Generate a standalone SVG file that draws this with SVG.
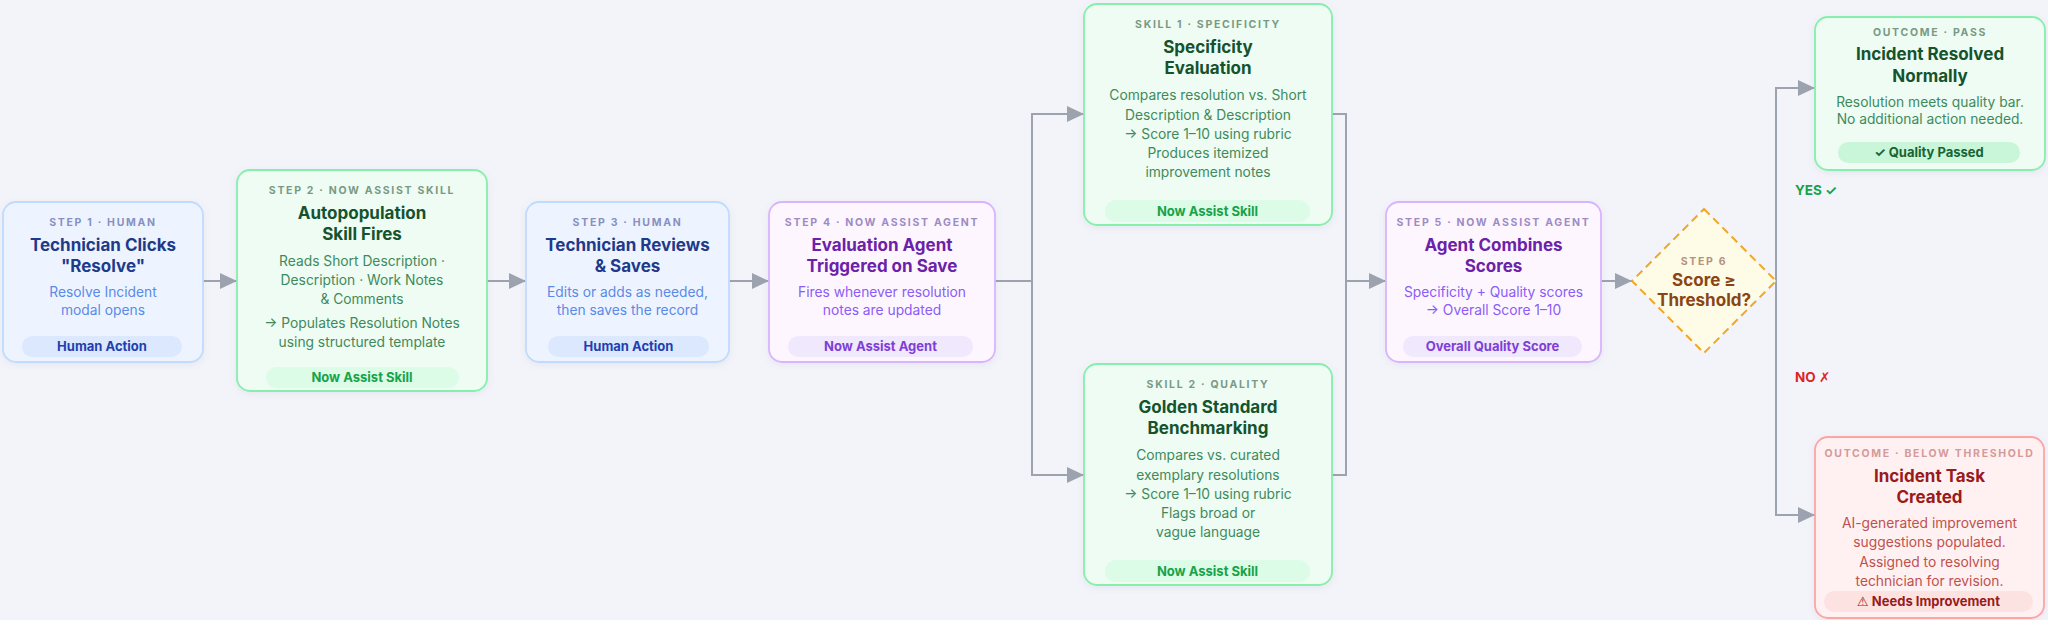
<svg xmlns="http://www.w3.org/2000/svg" width="2048" height="620" viewBox="0 0 2048 620">
<style>
text{font-family:Inter,"Noto Sans","Liberation Sans",sans-serif;text-anchor:middle}
.lbl{font-size:10.5px;font-weight:700;letter-spacing:1.7px}
.ttl{font-size:17px;font-weight:700}
.dsc{font-size:13.8px;font-weight:400}
.pil{font-size:13px;font-weight:700}
.hum rect.box{fill:#eef4ff;stroke:#bfdbfe;stroke-width:1.8}
.hum .lbl{fill:#8790c0}.hum .ttl{fill:#1e3a8a}.hum .dsc{fill:#5b8ae6}.hum rect.pill{fill:#dbe8fd}.hum .pil{fill:#1e40af}
.skl rect.box{fill:#eefcf3;stroke:#86efac;stroke-width:1.8}
.skl .lbl{fill:#789a85}.skl .ttl{fill:#14532d}.skl .dsc{fill:#3f8a5c}.skl rect.pill{fill:#dcfce7}.skl .pil{fill:#16a34a}
.agt rect.box{fill:#fdf6ff;stroke:#d8b4fe;stroke-width:1.8}
.agt .lbl{fill:#9d8bc4}.agt .ttl{fill:#6b21a8}.agt .dsc{fill:#8b5cf6}.agt rect.pill{fill:#f0e8fc}.agt .pil{fill:#7e3fd6}
.bad rect.box{fill:#fff1f2;stroke:#fca5a5;stroke-width:1.8}
.bad .lbl{fill:#d49a9a}.bad .ttl{fill:#991b1b}.bad .dsc{fill:#c0504d}.bad rect.pill{fill:#fde2e2}.bad .pil{fill:#991b1b}
.box{filter:url(#sh)}
.conn path{fill:none;stroke:#9ca3af;stroke-width:2}
.arr{marker-end:url(#ah)}
.br{text-anchor:start;font-size:13.5px;font-weight:700}
.sym{font-family:"DejaVu Sans",sans-serif}
</style>
<defs>
<marker id="ah" markerUnits="userSpaceOnUse" markerWidth="18" markerHeight="16" refX="17" refY="8" orient="auto">
<path d="M0,0 L17,8 L0,16 Z" fill="#9ca3af"/>
</marker>
<filter id="sh" x="-10%" y="-10%" width="120%" height="125%">
<feDropShadow dx="0" dy="2" stdDeviation="3" flood-color="#6b7280" flood-opacity="0.10"/>
</filter>
</defs>
<rect width="2048" height="620" fill="#f3f4fa"/>

<g class="conn">
<path class="arr" d="M203,281 H237"/>
<path class="arr" d="M487,281 H526"/>
<path class="arr" d="M729,281 H769"/>
<path class="arr" d="M995,281 H1032 V114 H1084"/>
<path class="arr" d="M1032,281 V475 H1084"/>
<path d="M1332,114 H1346 V475 H1332"/>
<path class="arr" d="M1346,281 H1386"/>
<path class="arr" d="M1601,281 H1632"/>
<path class="arr" d="M1776,281 V88 H1815"/>
<path class="arr" d="M1776,281 V515 H1815"/>
</g>

<g id="step1" class="hum">
<rect class="box" x="3" y="202" width="200" height="160" rx="13"/>
<text class="lbl" x="103" y="225.5">STEP 1 · HUMAN</text>
<text class="ttl" x="103" y="251">Technician Clicks</text>
<text class="ttl" x="103" y="272">"Resolve"</text>
<text class="dsc" x="103" y="297">Resolve Incident</text>
<text class="dsc" x="103" y="315">modal opens</text>
<rect class="pill" x="22" y="336" width="160" height="21" rx="10.5"/>
<text class="pil" x="102" y="351">Human Action</text>
</g>

<g id="step2" class="skl">
<rect class="box" x="237" y="170" width="250" height="221" rx="13"/>
<text class="lbl" x="362" y="193.5">STEP 2 · NOW ASSIST SKILL</text>
<text class="ttl" x="362" y="219">Autopopulation</text>
<text class="ttl" x="362" y="240">Skill Fires</text>
<text class="dsc" x="362" y="266">Reads Short Description ·</text>
<text class="dsc" x="362" y="285">Description · Work Notes</text>
<text class="dsc" x="362" y="304">&amp; Comments</text>
<text class="dsc" x="362" y="328">→ Populates Resolution Notes</text>
<text class="dsc" x="362" y="347">using structured template</text>
<rect class="pill" x="266" y="367" width="193" height="21" rx="10.5"/>
<text class="pil" x="362" y="382">Now Assist Skill</text>
</g>

<g id="step3" class="hum">
<rect class="box" x="526" y="202" width="203" height="160" rx="13"/>
<text class="lbl" x="627.5" y="225.5">STEP 3 · HUMAN</text>
<text class="ttl" x="627.5" y="251">Technician Reviews</text>
<text class="ttl" x="627.5" y="272">&amp; Saves</text>
<text class="dsc" x="627.5" y="297">Edits or adds as needed,</text>
<text class="dsc" x="627.5" y="315">then saves the record</text>
<rect class="pill" x="548" y="336" width="161" height="21" rx="10.5"/>
<text class="pil" x="628.5" y="351">Human Action</text>
</g>

<g id="step4" class="agt">
<rect class="box" x="769" y="202" width="226" height="160" rx="13"/>
<text class="lbl" x="882" y="225.5">STEP 4 · NOW ASSIST AGENT</text>
<text class="ttl" x="882" y="251">Evaluation Agent</text>
<text class="ttl" x="882" y="272">Triggered on Save</text>
<text class="dsc" x="882" y="297">Fires whenever resolution</text>
<text class="dsc" x="882" y="315">notes are updated</text>
<rect class="pill" x="788" y="336" width="185" height="21" rx="10.5"/>
<text class="pil" x="880.5" y="351">Now Assist Agent</text>
</g>

<g id="skill1" class="skl">
<rect class="box" x="1084" y="4" width="248" height="221" rx="13"/>
<text class="lbl" x="1208" y="27.5">SKILL 1 · SPECIFICITY</text>
<text class="ttl" x="1208" y="53">Specificity</text>
<text class="ttl" x="1208" y="74">Evaluation</text>
<text class="dsc" x="1208" y="100">Compares resolution vs. Short</text>
<text class="dsc" x="1208" y="119.5">Description &amp; Description</text>
<text class="dsc" x="1208" y="139">→ Score 1–10 using rubric</text>
<text class="dsc" x="1208" y="158">Produces itemized</text>
<text class="dsc" x="1208" y="177">improvement notes</text>
<rect class="pill" x="1105" y="200" width="205" height="22" rx="11"/>
<text class="pil" x="1207.5" y="215.5">Now Assist Skill</text>
</g>

<g id="skill2" class="skl">
<rect class="box" x="1084" y="364" width="248" height="221" rx="13"/>
<text class="lbl" x="1208" y="387.5">SKILL 2 · QUALITY</text>
<text class="ttl" x="1208" y="413">Golden Standard</text>
<text class="ttl" x="1208" y="434">Benchmarking</text>
<text class="dsc" x="1208" y="460">Compares vs. curated</text>
<text class="dsc" x="1208" y="479.5">exemplary resolutions</text>
<text class="dsc" x="1208" y="499">→ Score 1–10 using rubric</text>
<text class="dsc" x="1208" y="518">Flags broad or</text>
<text class="dsc" x="1208" y="537">vague language</text>
<rect class="pill" x="1105" y="560" width="205" height="22" rx="11"/>
<text class="pil" x="1207.5" y="575.5">Now Assist Skill</text>
</g>

<g id="step5" class="agt">
<rect class="box" x="1386" y="202" width="215" height="160" rx="13"/>
<text class="lbl" x="1493.5" y="225.5">STEP 5 · NOW ASSIST AGENT</text>
<text class="ttl" x="1493.5" y="251">Agent Combines</text>
<text class="ttl" x="1493.5" y="272">Scores</text>
<text class="dsc" x="1493.5" y="297">Specificity + Quality scores</text>
<text class="dsc" x="1493.5" y="315">→ Overall Score 1–10</text>
<rect class="pill" x="1403" y="336" width="179" height="21" rx="10.5"/>
<text class="pil" x="1492.5" y="351">Overall Quality Score</text>
</g>

<g id="step6">
<path d="M1704,209 L1776,281 L1704,353 L1632,281 Z" fill="#fefbe6" stroke="#f0a62a" stroke-width="2" stroke-dasharray="8 5"/>
<text class="lbl" x="1704" y="264.5" fill="#b5917e">STEP 6</text>
<text class="ttl" x="1704" y="286" fill="#8a4514">Score ≥</text>
<text class="ttl" x="1704" y="306" fill="#8a4514">Threshold?</text>
</g>

<g id="pass" class="skl">
<rect class="box" x="1815" y="17" width="230" height="153" rx="13"/>
<text class="lbl" x="1930" y="35.5">OUTCOME · PASS</text>
<text class="ttl" x="1930" y="60">Incident Resolved</text>
<text class="ttl" x="1930" y="82">Normally</text>
<text class="dsc" x="1930" y="107">Resolution meets quality bar.</text>
<text class="dsc" x="1930" y="124">No additional action needed.</text>
<rect class="pill" x="1838" y="142" width="182" height="21" rx="10.5" style="fill:#c9f5d8"/>
<text class="pil" x="1929" y="157" style="fill:#166534">✓ Quality Passed</text>
</g>

<g id="fail" class="bad">
<rect class="box" x="1815" y="437" width="229" height="181" rx="13"/>
<text class="lbl" x="1929.5" y="456.5">OUTCOME · BELOW THRESHOLD</text>
<text class="ttl" x="1929.5" y="482">Incident Task</text>
<text class="ttl" x="1929.5" y="503">Created</text>
<text class="dsc" x="1929.5" y="528">AI-generated improvement</text>
<text class="dsc" x="1929.5" y="547">suggestions populated.</text>
<text class="dsc" x="1929.5" y="567">Assigned to resolving</text>
<text class="dsc" x="1929.5" y="586">technician for revision.</text>
<rect class="pill" x="1824" y="591" width="209" height="21" rx="10.5"/>
<text class="pil" x="1928.5" y="606"><tspan class="sym" font-weight="400">⚠</tspan> Needs Improvement</text>
</g>

<g id="branch-labels">
<text class="br" x="1795" y="194.5" fill="#16a34a">YES ✓</text>
<text class="br" x="1795" y="381.5" fill="#dc2626">NO <tspan class="sym">✗</tspan></text>
</g>
</svg>
